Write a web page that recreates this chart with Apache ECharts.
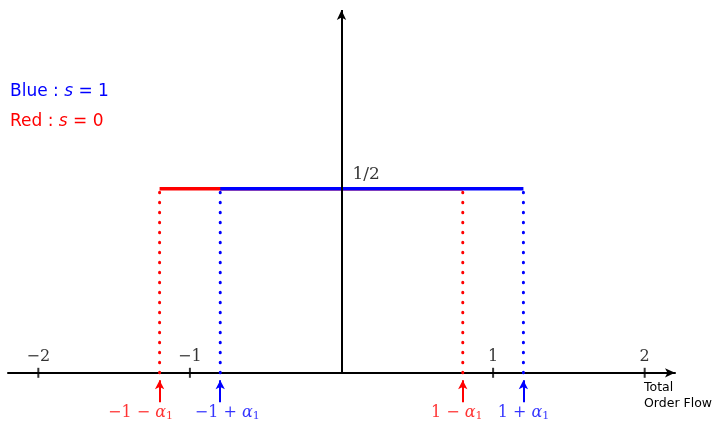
<!DOCTYPE html>
<html>
<head>
<meta charset="utf-8">
<script src="https://cdn.jsdelivr.net/npm/echarts@6/dist/echarts.min.js"></script>
<style>
  html, body { margin: 0; padding: 0; background: #fff; }
  #chart { width: 718px; height: 423px; }
</style>
</head>
<body>
<div id="chart"></div>
<script>
// axis ticks on the order flow axis
const tickVals = [-2, -1, 1, 2];
const tickLabels = ['\u22122', '\u22121', '1', '2'];

// density level and support of each case
const level = 0.5;
const levelLabel = '1/2';
const redEnds = [-1.2, 0.8];   // s = 0 : [-1-a1, 1-a1]
const blueEnds = [-0.8, 1.2];  // s = 1 : [-1+a1, 1+a1]
const redLabels = ['\u22121 \u2212 ', '1 \u2212 '];
const blueLabels = ['\u22121 + ', '1 + '];

const RED = '#ff0000';
const BLUE = '#0000ff';

const myChart = echarts.init(document.getElementById('chart'));

const mathRich = {
  m: { fontFamily: 'DejaVu Serif', fontSize: 16, lineHeight: 14 },
  a: { fontFamily: 'DejaVu Serif', fontStyle: 'italic', fontSize: 16, lineHeight: 14 },
  sub: { fontFamily: 'DejaVu Serif', fontSize: 11, lineHeight: 12, padding: [8, 0, 0, 0] }
};

function levelLine(ends, color) {
  return {
    type: 'line',
    data: ends.map(x => [x, level]),
    symbol: 'none',
    lineStyle: { color: color, width: 3.5 },
    silent: true,
    z: color === BLUE ? 4 : 3
  };
}

function dropLines(ends, color) {
  return ends.map(x => ({
    type: 'line',
    data: [[x, 0], [x, level]],
    symbol: 'none',
    lineStyle: { color: color, width: 3, type: [0.5, 9.5], cap: 'round' },
    silent: true,
    z: 2
  }));
}

// shifts: labels under the arrows are not exactly centred in the original
function arrowMarks(ends, labels, color, shifts) {
  return {
    type: 'scatter',
    data: ends.map((x, i) => ({
      value: [x, -0.108],
      name: labels[i],
      label: { offset: [shifts[i], 0] }
    })),
    symbolSize: 0,
    silent: true,
    clip: false,
    label: {
      show: true,
      position: 'inside',
      color: color,
      formatter: p => '{m|' + p.name + '}{a|\u03b1}{sub|1}',
      rich: {
        m: Object.assign({}, mathRich.m, { color: color }),
        a: Object.assign({}, mathRich.a, { color: color }),
        sub: Object.assign({}, mathRich.sub, { color: color })
      }
    },
    markLine: {
      silent: true,
      symbol: ['none', 'arrow'],
      symbolSize: [7, 9],
      label: { show: false },
      lineStyle: { color: color, width: 2, type: 'solid' },
      data: ends.map(x => [{ coord: [x, -0.08] }, { coord: [x, -0.02] }])
    }
  };
}

const option = {
  backgroundColor: '#fff',
  animation: false,
  grid: { left: 8, right: 43, top: 10, bottom: 6 },
  xAxis: {
    type: 'value',
    min: -2.2,
    max: 2.2,
    axisLine: {
      show: true,
      onZero: true,
      symbol: ['none', 'arrow'],
      symbolSize: [7, 10],
      lineStyle: { color: '#000', width: 2 }
    },
    axisTick: { show: false },
    axisLabel: { show: false },
    splitLine: { show: false }
  },
  yAxis: {
    type: 'value',
    min: -0.12,
    max: 0.985,
    axisLine: { show: false },
    axisTick: { show: false },
    axisLabel: { show: false },
    splitLine: { show: false }
  },
  graphic: [
    {
      type: 'text', left: 10, top: 83,
      style: {
        text: '{t|Blue : }{s|s}{t| = 1}',
        rich: {
          t: { fontFamily: 'DejaVu Sans', fontSize: 17, fill: BLUE },
          s: { fontFamily: 'DejaVu Sans', fontStyle: 'italic', fontSize: 17, fill: BLUE }
        }
      }
    },
    {
      type: 'text', left: 10, top: 113,
      style: {
        text: '{t|Red : }{s|s}{t| = 0}',
        rich: {
          t: { fontFamily: 'DejaVu Sans', fontSize: 17, fill: RED },
          s: { fontFamily: 'DejaVu Sans', fontStyle: 'italic', fontSize: 17, fill: RED }
        }
      }
    },
    {
      type: 'text', left: 644, top: 380,
      style: {
        text: 'Total\nOrder Flow',
        fontFamily: 'DejaVu Sans',
        fontSize: 12.5,
        lineHeight: 16,
        fill: '#000'
      }
    }
  ],
  series: [
    // vertical axis with arrow
    {
      type: 'line',
      data: [],
      markLine: {
        silent: true,
        symbol: ['none', 'arrow'],
        symbolSize: [7, 10],
        label: { show: false },
        lineStyle: { color: '#000', width: 2, type: 'solid' },
        data: [[{ coord: [0, 0] }, { coord: [0, 0.985] }]]
      }
    },
    // ticks and tick labels
    {
      type: 'scatter',
      data: tickVals.map((v, i) => ({ value: [v, 0], name: tickLabels[i] })),
      symbol: 'rect',
      symbolSize: [2, 10],
      itemStyle: { color: '#000' },
      silent: true,
      label: {
        show: true,
        position: 'top',
        distance: 3,
        formatter: p => p.name,
        fontFamily: 'DejaVu Serif',
        fontSize: 16,
        color: '#000'
      },
      z: 5
    },
    // 1/2 label
    {
      type: 'scatter',
      data: [[0, level]],
      symbolSize: 0,
      silent: true,
      label: {
        show: true,
        formatter: levelLabel,
        position: 'insideBottomLeft',
        offset: [6, -1],
        fontFamily: 'DejaVu Serif',
        fontSize: 17,
        color: '#000'
      }
    },
    ...dropLines(redEnds, RED),
    ...dropLines(blueEnds, BLUE),
    levelLine(redEnds, RED),
    levelLine(blueEnds, BLUE),
    arrowMarks(redEnds, redLabels, RED, [-19, -6]),
    arrowMarks(blueEnds, blueLabels, BLUE, [7, 0])
  ]
};

myChart.setOption(option);
</script>
</body>
</html>
